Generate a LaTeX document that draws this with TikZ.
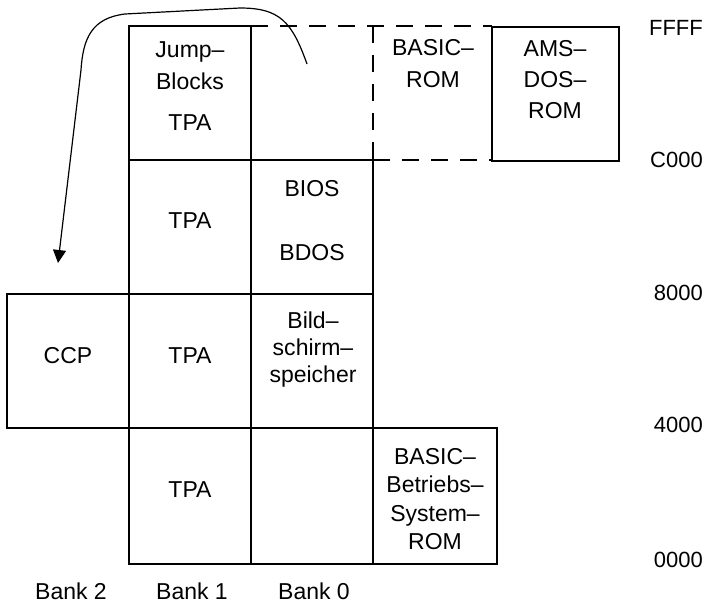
\documentclass[tikz,border=0pt]{standalone}
\usepackage{fontspec}
\setmainfont{Liberation Sans}
\usetikzlibrary{arrows.meta}

\tikzset{
  memline/.style={line width=1.8pt},
  romline/.style={line width=1.8pt, dash pattern=on 17pt off 12pt},
  cell/.style={font=\fontsize{23}{32}\selectfont, align=center, inner sep=0pt},
  addr/.style={font=\fontsize{22}{24}\selectfont, anchor=east, inner sep=0pt},
}

\begin{document}
\begin{tikzpicture}[x=1pt,y=-1pt]
\useasboundingbox (0,0) rectangle (708,605);

% Bank 2
\draw[memline] (7,294) rectangle (129,428);

\node[cell] (ccp) at (68,356) {CCP};

% Bank 1
\draw[memline] (129,26) rectangle (251,564);

\draw[memline] (129,160) -- (251,160);
\draw[memline] (129,294) -- (251,294);
\draw[memline] (129,428) -- (251,428);

\node[cell] (jump) at (190,66) {Jump--\\Blocks};
\node[cell] (tpa3) at (190,123) {TPA};
\node[cell] (tpa2) at (190,221) {TPA};
\node[cell] (tpa1) at (190,356) {TPA};
\node[cell] (tpa0) at (190,490) {TPA};

% Bank 0
\draw[memline] (251,160) rectangle (373,564);

\draw[memline] (251,294) -- (373,294);
\draw[memline] (251,428) -- (373,428);

\node[cell] (bios) at (312,189) {BIOS};
\node[cell] (bdos) at (312,253) {BDOS};
\node[cell, font=\fontsize{23}{27}\selectfont] (bild) at (313,350)
{Bild--\\schirm--\\speicher};

% ROMs
\draw[romline] (251,26) -- (492,26);
\draw[romline] (373,26) -- (373,160);
\draw[romline] (373,160) -- (492,160);

\node[cell] (basrom) at (433,64) {BASIC--\\ROM};

\draw[memline] (492,27) rectangle (619,161);

\node[cell, font=\fontsize{23}{31}\selectfont] (amsdos) at (555,80) {AMS--\\DOS--\\ROM};

\draw[memline] (373,428) rectangle (497,564);

\node[cell, font=\fontsize{23}{28.5}\selectfont] (basos) at (435,499)
{BASIC--\\Betriebs--\\System--\\ROM};

% Umschaltung
\coordinate (from) at (307,64);
\coordinate (to) at (58,263);

\draw[line width=1.2pt, -{Triangle[length=13pt,width=13pt]}] (from)
.. controls (292,22) and (280,8) .. (240,8)
-- (125,14)
.. controls (92,18) and (83,38) .. (81,70)
-- (to);

% Adressen
\node[addr] (ffff) at (703,28) {FFFF};
\node[addr] (c000) at (703,160) {C000};
\node[addr] (a8000) at (703,293) {8000};
\node[addr] (a4000) at (703,425) {4000};
\node[addr] (a0000) at (703,560) {0000};

% Baenke
\node[cell] (bank2) at (71,591) {Bank 2};
\node[cell] (bank1) at (192,591) {Bank 1};
\node[cell] (bank0) at (314,591) {Bank 0};

\end{tikzpicture}
\end{document}
